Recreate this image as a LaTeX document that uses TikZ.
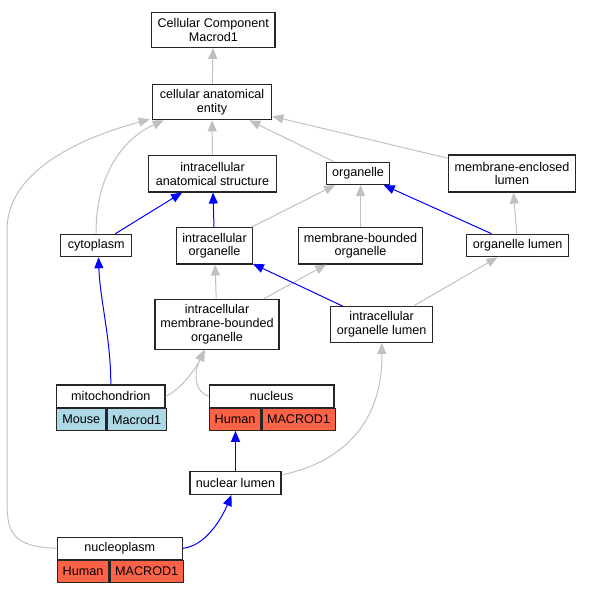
\documentclass[tikz,border=0pt]{standalone}
\usepackage{fontspec}
\setmainfont{Liberation Sans}
\usepackage{tikz}
\usetikzlibrary{arrows.meta}
\usetikzlibrary{calc}
\definecolor{edgegray}{HTML}{C0C0C0}
\definecolor{mouse}{HTML}{ADD8E6}
\definecolor{human}{HTML}{FF6347}

\begin{document}
\begin{tikzpicture}[x=1pt,y=-1pt,
		term/.style={draw=black!85,fill=white,line width=1.2pt,inner sep=0pt,align=center,font=\fontsize{12.6}{13.6}\selectfont},
		cell/.style={term,minimum height=21.7,anchor=north west},
		isa/.style={draw=edgegray,line width=1pt,-{Triangle[length=11pt,width=9pt]}},
		partof/.style={draw=blue,line width=1pt,-{Triangle[length=11pt,width=9pt]}}]
			\useasboundingbox (0,0) rectangle (590,592);
			
			% terms
			
			\node[term,minimum width=123.3,minimum height=35] (CC) at (213.3,29.8) {Cellular Component\\Macrod1};
			\node[term,minimum width=119.4,minimum height=35.4] (cae) at (212,102) {cellular anatomical\\entity};
			\node[term,minimum width=128.4,minimum height=36.3] (ias) at (212.5,173.8) {intracellular\\anatomical structure};
			\node[term,minimum width=62.6,minimum height=22] (org) at (358,173.5) {organelle};
			\node[term,minimum width=127.4,minimum height=37] (mel) at (512,173.5) {membrane-enclosed\\lumen};
			\node[term,minimum width=71,minimum height=22.4] (cyto) at (96.2,245.5) {cytoplasm};
			\node[term,minimum width=75.6,minimum height=36.3] (io) at (214.5,245.8) {intracellular\\organelle};
			\node[term,minimum width=124.4,minimum height=36.3] (mbo) at (360.5,245.8) {membrane-bounded\\organelle};
			\node[term,minimum width=102,minimum height=22.4] (ol) at (517.7,245.5) {organelle lumen};
			\node[term,minimum width=124,minimum height=50] (imbo) at (217,324.3) {intracellular\\membrane-bounded\\organelle};
			\node[term,minimum width=102,minimum height=35.6] (iol) at (381.7,324.5) {intracellular\\organelle lumen};
			\node[term,minimum width=91,minimum height=22.6] (nl) at (235.5,483) {nuclear lumen};
			
			% annotated terms
			
			\node[term,minimum width=108.3,minimum height=22.7] (mito) at (110.8,396.3) {mitochondrion};
			\node[cell,fill=mouse,minimum width=49.3] (mitoA) at (mito.south west) {Mouse};
			\node[cell,fill=mouse,minimum width=59] (mitoB) at (mitoA.north east) {Macrod1};
			
			\node[term,minimum width=124.7,minimum height=22.3] (nuc) at (271.7,396.2) {nucleus};
			\node[cell,fill=human,minimum width=51.4] (nucA) at (nuc.south west) {Human};
			\node[cell,fill=human,minimum width=73.3] (nucB) at (nucA.north east) {MACROD1};
			
			\node[term,minimum width=125,minimum height=22] (npl) at (119.8,548.3) {nucleoplasm};
			\node[cell,fill=human,minimum width=51.4] (nplA) at (npl.south west) {Human};
			\node[cell,fill=human,minimum width=73.6] (nplB) at (nplA.north east) {MACROD1};
			
			% is_a
			
			\draw[isa] (cae) -- (CC);
			\draw[isa] (ias) -- (cae);
			\draw[isa] (org) -- (cae);
			\draw[isa] (mel) -- (cae);
			\draw[isa] (cyto.north) .. controls (95,180) and (120,140) .. ($(cae.south west)+(12,0)$);
			\draw[isa] (npl.west) .. controls (10,547) and (7,530) .. (7,500) -- (7,230)
				.. controls (7,160) and (110,130) .. ($(cae.south west)+(-2,-1)$);
			\draw[isa] (io) -- (org);
			\draw[isa] (mbo.north) -- (mbo.north |- org.south);
			\draw[isa] (ol) -- (mel);
			\draw[isa] (imbo) -- (io);
			\draw[isa] (imbo) -- (mbo);
			\draw[isa] (iol) -- (ol);
			\draw[isa] (mito.east) .. controls (180,390) and (195,370) .. ($(imbo.south)+(-12,0)$);
			\draw[isa] (nuc.west) .. controls (195,392) and (193,375) .. ($(imbo.south)+(-13,0)$);
			\draw[isa] (nl.10) .. controls (345,462) and (383,420) .. (iol.south);
			
			% part_of
			
			\draw[partof] (cyto) -- (ias);
			\draw[partof] (io) -- (ias);
			\draw[partof] (ol) -- (org);
			\draw[partof] (iol) -- (io);
			\draw[partof] (mito.north) .. controls (111,340) and (100,300) .. ($(cyto.south)+(2.3,0)$);
			\draw[partof] (nl.north) -- (nl.north |- nucA.south);
			\draw[partof] (npl.east) .. controls (205,546) and (221,520) .. ($(nl.south)+(-4,0)$);
			
		\end{tikzpicture}
\end{document}
